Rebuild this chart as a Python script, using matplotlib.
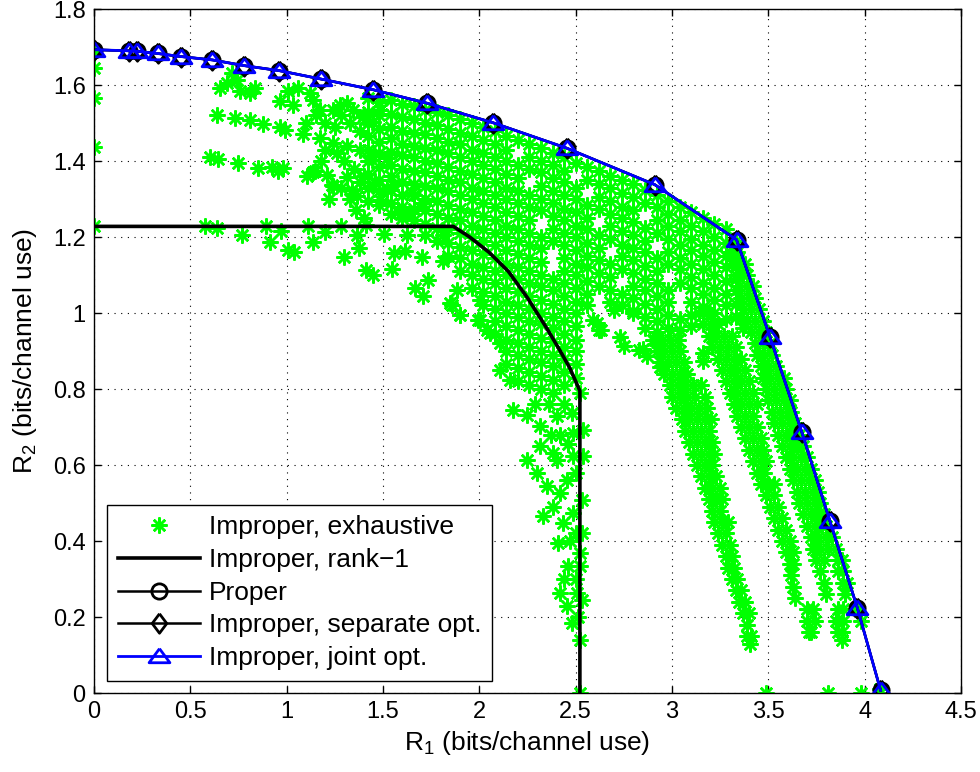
import numpy as np
import matplotlib
matplotlib.use('Agg')
import matplotlib.pyplot as plt

plt.rcParams['font.family'] = ['Liberation Sans', 'DejaVu Sans']
plt.rcParams['mathtext.default'] = 'regular'

# outer boundary (proper, improper separate opt. and joint opt. coincide)
r1_front = [0.0, 0.183, 0.221, 0.33, 0.45, 0.615, 0.78, 0.96, 1.176, 1.446,
            1.73, 2.07, 2.453, 2.91, 3.335, 3.508, 3.673, 3.82, 3.962, 4.083]
r2_front = [1.693, 1.690, 1.689, 1.683, 1.675, 1.666, 1.651, 1.638, 1.616, 1.588,
            1.552, 1.501, 1.434, 1.338, 1.193, 0.938, 0.688, 0.452, 0.224, 0.007]

# improper, rank-1
r1_rank1 = [0.0, 1.865, 1.95, 2.05, 2.15, 2.25, 2.35, 2.42, 2.47, 2.522, 2.522]
r2_rank1 = [1.228, 1.228, 1.20, 1.16, 1.11, 1.04, 0.96, 0.90, 0.855, 0.795, 0.0]

# improper, exhaustive search, region by region
ex_axis = [(0.0, 1.69), (0.0, 1.645), (0.0, 1.566), (0.0, 1.437), (0.0, 1.228),
           (2.52, 0.0), (3.49, 0.0), (3.81, 0.0), (3.98, 0.0), (4.08, 0.01)]

ex_row_123 = [(0.576, 1.230), (0.637, 1.224), (0.767, 1.206), (0.893, 1.230), (0.914, 1.186),
              (0.969, 1.215), (1.009, 1.167), (1.038, 1.160), (1.112, 1.230), (1.135, 1.186),
              (1.199, 1.212), (1.280, 1.228), (1.297, 1.147), (1.363, 1.206), (1.377, 1.171),
              (1.412, 1.232), (1.412, 1.114), (1.450, 1.101), (1.505, 1.209), (1.545, 1.116),
              (1.557, 1.158), (1.614, 1.162), (1.623, 1.206), (1.701, 1.147), (1.718, 1.206),
              (1.735, 1.088), (1.666, 1.066), (1.706, 1.044), (1.813, 1.136), (1.857, 1.022),
              (1.883, 1.061), (1.901, 0.996), (1.813, 1.206), (2.003, 1.035), (1.995, 0.982),
              (2.038, 0.956)]

ex_row_141 = [(0.602, 1.410), (0.645, 1.405), (0.749, 1.395), (0.853, 1.382), (0.922, 1.384),
              (0.957, 1.375), (0.983, 1.382), (1.104, 1.361), (1.147, 1.373), (1.208, 1.364),
              (1.234, 1.338), (1.311, 1.359), (1.337, 1.325), (1.363, 1.307), (1.380, 1.346),
              (1.458, 1.342), (1.484, 1.298), (1.519, 1.325), (1.553, 1.338), (1.579, 1.267),
              (1.640, 1.263), (1.649, 1.316), (1.709, 1.289), (1.138, 1.370), (1.242, 1.333)]

ex_row_152 = [(0.637, 1.522), (0.732, 1.513), (0.810, 1.507), (0.879, 1.498), (0.965, 1.489),
              (0.991, 1.482), (1.086, 1.472), (1.173, 1.461), (1.242, 1.447), (1.311, 1.439),
              (1.381, 1.430), (1.450, 1.412), (1.519, 1.408)]

ex_row_160 = [(0.654, 1.592), (0.689, 1.605), (0.715, 1.632), (0.758, 1.583), (0.810, 1.579),
              (0.836, 1.592), (0.741, 1.614), (0.965, 1.557), (1.009, 1.583), (1.061, 1.592),
              (1.121, 1.579), (1.138, 1.561), (1.034, 1.548), (1.173, 1.535), (1.242, 1.535),
              (1.277, 1.548), (1.311, 1.553), (1.346, 1.535), (1.398, 1.517), (1.450, 1.504),
              (1.484, 1.535)]

ex_fill_mid = [(1.10, 1.50), (1.15, 1.52), (1.20, 1.50), (1.25, 1.49), (1.28, 1.52),
               (1.33, 1.50), (1.38, 1.48), (1.40, 1.52), (1.20, 1.43), (1.26, 1.42),
               (1.30, 1.40), (1.35, 1.38), (1.40, 1.36), (1.18, 1.40), (1.28, 1.33),
               (1.33, 1.30), (1.22, 1.30), (1.36, 1.27), (1.40, 1.25)]

# dense core: (R1, [R2 values]) per column
ex_core = [
    (1.42, [1.565, 1.53, 1.50, 1.465, 1.43, 1.40, 1.365, 1.33, 1.295]),
    (1.48, [1.555, 1.52, 1.485, 1.45, 1.42, 1.385, 1.35, 1.32, 1.285]),
    (1.54, [1.56, 1.525, 1.49, 1.46, 1.425, 1.39, 1.36, 1.325, 1.29, 1.26]),
    (1.60, [1.55, 1.515, 1.48, 1.445, 1.415, 1.38, 1.345, 1.31, 1.28, 1.25]),
    (1.66, [1.545, 1.51, 1.475, 1.44, 1.41, 1.375, 1.34, 1.31, 1.275, 1.245]),
    (1.72, [1.535, 1.50, 1.47, 1.435, 1.40, 1.37, 1.335, 1.30, 1.27, 1.235]),
    (1.78, [1.53, 1.495, 1.46, 1.43, 1.395, 1.36, 1.33, 1.295, 1.26, 1.225, 1.19]),
    (1.84, [1.52, 1.485, 1.45, 1.42, 1.385, 1.35, 1.32, 1.285, 1.25, 1.22, 1.185, 1.15]),
    (1.90, [1.51, 1.475, 1.445, 1.41, 1.375, 1.345, 1.31, 1.275, 1.245, 1.21, 1.175, 1.145, 1.11]),
    (1.96, [1.50, 1.465, 1.43, 1.40, 1.365, 1.33, 1.30, 1.265, 1.23, 1.20, 1.165, 1.13, 1.10, 1.065]),
    (2.02, [1.49, 1.455, 1.42, 1.39, 1.355, 1.32, 1.29, 1.255, 1.22, 1.19, 1.155, 1.12, 1.09,
            1.055, 1.02]),
    (2.08, [1.48, 1.445, 1.41, 1.38, 1.345, 1.31, 1.28, 1.245, 1.21, 1.18, 1.145, 1.11, 1.08,
            1.045, 1.01, 0.98, 0.945]),
    (2.14, [1.465, 1.43, 1.40, 1.365, 1.33, 1.30, 1.265, 1.23, 1.20, 1.165, 1.13, 1.10, 1.065,
            1.03, 1.00, 0.965, 0.93, 0.90, 0.865]),
    (2.20, [1.455, 1.39, 1.355, 1.32, 1.29, 1.255, 1.22, 1.19, 1.155, 1.12, 1.09, 1.055, 1.02,
            0.99, 0.955, 0.92, 0.89, 0.855, 0.82]),
    (2.26, [1.445, 1.41, 1.38, 1.31, 1.28, 1.245, 1.21, 1.18, 1.145, 1.11, 1.08, 1.045, 1.01,
            0.98, 0.945, 0.91, 0.88, 0.845, 0.81]),
    (2.32, [1.435, 1.40, 1.37, 1.335, 1.30, 1.27, 1.20, 1.17, 1.135, 1.10, 1.07, 1.035, 1.00,
            0.97, 0.935, 0.90, 0.87, 0.835, 0.80]),
    (2.38, [1.42, 1.39, 1.355, 1.32, 1.29, 1.255, 1.22, 1.19, 1.09, 1.06, 1.025, 0.99, 0.96,
            0.925, 0.89, 0.86, 0.825, 0.79]),
    (2.44, [1.41, 1.375, 1.345, 1.31, 1.275, 1.245, 1.21, 1.18, 1.145, 1.11, 1.08, 1.045, 1.01,
            0.98, 0.945, 0.91, 0.88, 0.845, 0.81]),
    (2.50, [1.395, 1.33, 1.30, 1.265, 1.23, 1.20, 1.165, 1.13, 1.10, 1.065, 1.03, 1.00, 0.965,
            0.93, 0.90, 0.865, 0.83]),
    (2.56, [1.385, 1.35, 1.285, 1.25, 1.22, 1.185, 1.15, 1.12, 1.085, 1.05, 1.02]),
    (2.62, [1.375, 1.34, 1.305, 1.275, 1.205, 1.17, 1.14, 1.105, 1.07]),
    (2.68, [1.36, 1.33, 1.295, 1.26, 1.23, 1.195, 1.13, 1.095, 1.06, 1.03]),
    (2.74, [1.35, 1.315, 1.28, 1.25, 1.215, 1.18, 1.15, 1.115, 1.05, 1.02]),
    (2.80, [1.34, 1.305, 1.27, 1.24, 1.205, 1.17, 1.14, 1.105, 1.07, 1.04, 1.005]),
    (2.86, [1.325, 1.29, 1.225, 1.19, 1.16, 1.125, 1.09, 1.06, 1.025, 0.99, 0.96]),
    (2.92, [1.31, 1.28, 1.245, 1.21, 1.145, 1.11, 1.08, 1.045, 1.01, 0.98, 0.95]),
    (2.98, [1.295, 1.26, 1.23, 1.195, 1.16, 1.13, 1.06, 1.03, 0.995, 0.96]),
    (3.04, [1.28, 1.245, 1.215, 1.18, 1.145, 1.115, 1.08, 0.985, 0.955]),
    (3.10, [1.265, 1.23, 1.195, 1.165, 1.13, 1.095, 1.065, 1.03, 0.995, 0.965]),
    (3.16, [1.25, 1.215, 1.18, 1.15, 1.115, 1.08, 1.05, 1.015]),
    (3.22, [1.235, 1.20, 1.165, 1.135, 1.10, 1.065, 1.035]),
    (3.28, [1.22, 1.185, 1.15, 1.12, 1.085, 1.05, 1.02, 0.985]),
    (3.33, [1.19, 1.155, 1.125, 1.09, 1.06, 1.025, 0.99]),
]

ex_streak_a = [(2.107, 0.851), (2.160, 0.824), (2.176, 0.746), (2.246, 0.732), (2.315, 0.702),
               (2.401, 0.728), (2.479, 0.737), (2.488, 0.684), (2.246, 0.614), (2.315, 0.649),
               (2.384, 0.632), (2.401, 0.614), (2.488, 0.623), (2.349, 0.544), (2.419, 0.526),
               (2.453, 0.561), (2.332, 0.465), (2.436, 0.447), (2.488, 0.474), (2.410, 0.395),
               (2.462, 0.333), (2.419, 0.263), (2.453, 0.228), (2.505, 0.263), (2.479, 0.184),
               (2.522, 0.140), (2.531, 0.509), (2.531, 0.421), (2.522, 0.368), (2.522, 0.333),
               (2.531, 0.246), (2.522, 0.789), (2.540, 0.693), (2.540, 0.623), (1.850, 1.026),
               (1.900, 0.996), (2.003, 0.982), (2.055, 0.947), (2.107, 0.921), (2.29, 0.76),
               (2.36, 0.76), (2.44, 0.76), (2.42, 0.68), (2.37, 0.68), (2.46, 0.655),
               (2.30, 0.58), (2.50, 0.58), (2.38, 0.49), (2.50, 0.42), (2.47, 0.40),
               (2.50, 0.30), (2.44, 0.30), (2.51, 0.20)]

ex_knee = [(2.59, 0.982), (2.63, 0.956), (2.70, 1.009), (2.73, 0.938), (2.75, 0.912),
           (2.80, 1.0), (2.83, 0.903), (2.87, 0.886), (2.90, 0.930), (2.94, 0.859),
           (2.62, 0.955), (2.61, 0.974), (2.85, 0.905), (2.95, 0.86), (3.162, 0.895),
           (3.162, 0.873), (3.37, 0.96), (3.36, 0.99)]

# lower streaks: (R2, [R1 values]) per row
ex_streak_b = [
    (0.93, [2.91, 2.95, 2.99, 3.03]), (0.90, [2.92, 2.96, 3.00, 3.04]),
    (0.87, [2.94, 2.98, 3.02, 3.06]), (0.84, [2.96, 3.00, 3.04, 3.08]),
    (0.81, [2.99, 3.03, 3.07, 3.11, 3.15]), (0.78, [3.00, 3.04, 3.08, 3.12, 3.17]),
    (0.75, [3.02, 3.06, 3.10, 3.14, 3.18]), (0.72, [3.05, 3.09, 3.13, 3.17, 3.20]),
    (0.69, [3.07, 3.11, 3.15, 3.19]), (0.66, [3.09, 3.13, 3.17, 3.21]),
    (0.63, [3.11, 3.15, 3.19, 3.22]), (0.60, [3.13, 3.17, 3.21]),
    (0.57, [3.15, 3.19, 3.23]), (0.54, [3.17, 3.21, 3.25]),
    (0.51, [3.19, 3.23, 3.26]), (0.48, [3.21, 3.25]),
    (0.45, [3.22, 3.26, 3.29]), (0.42, [3.24, 3.28]),
    (0.39, [3.26, 3.30]), (0.36, [3.28, 3.31]),
    (0.33, [3.29, 3.32]), (0.30, [3.31, 3.34]),
    (0.27, [3.33, 3.36]), (0.24, [3.35, 3.38]),
    (0.21, [3.37, 3.40]), (0.18, [3.39]),
    (0.15, [3.39, 3.41]), (0.13, [3.405]),
]

ex_streak_c = [
    (1.00, [3.14, 3.18, 3.22]), (0.97, [3.16, 3.20, 3.24]),
    (0.94, [3.19, 3.23, 3.27, 3.31]), (0.91, [3.21, 3.25, 3.29, 3.33]),
    (0.88, [3.24, 3.28, 3.32, 3.36]), (0.85, [3.26, 3.30, 3.34, 3.38]),
    (0.82, [3.28, 3.32, 3.36, 3.40]), (0.79, [3.30, 3.34, 3.38, 3.42]),
    (0.76, [3.32, 3.36, 3.40, 3.44]), (0.73, [3.34, 3.38, 3.42]),
    (0.70, [3.36, 3.40, 3.44]), (0.67, [3.38, 3.42, 3.46]),
    (0.64, [3.40, 3.44, 3.47]), (0.61, [3.42, 3.46, 3.49]),
    (0.58, [3.44, 3.48]), (0.55, [3.46, 3.50, 3.53]),
    (0.52, [3.49, 3.53]), (0.49, [3.51, 3.55]),
    (0.46, [3.53, 3.57]), (0.43, [3.55, 3.59]),
    (0.40, [3.57, 3.61]), (0.37, [3.59, 3.63]),
    (0.34, [3.61, 3.63]), (0.31, [3.62]),
    (0.28, [3.63]), (0.25, [3.64]),
]

ex_streak_d = [
    (1.16, [3.30, 3.34]), (1.13, [3.31, 3.35, 3.38]),
    (1.10, [3.33, 3.37, 3.39]), (1.07, [3.35, 3.39, 3.42]),
    (1.04, [3.36, 3.40, 3.43]), (1.01, [3.37, 3.41, 3.45]),
    (0.98, [3.39, 3.43, 3.47]), (0.95, [3.41, 3.45, 3.49]),
    (0.92, [3.43, 3.47, 3.51]), (0.89, [3.44, 3.48, 3.52]),
    (0.86, [3.46, 3.50, 3.54]), (0.83, [3.47, 3.51, 3.55, 3.58]),
    (0.80, [3.49, 3.53, 3.57, 3.59]), (0.77, [3.50, 3.54, 3.58, 3.61]),
    (0.74, [3.52, 3.56, 3.60, 3.62]), (0.71, [3.53, 3.57, 3.61, 3.64]),
    (0.68, [3.55, 3.59, 3.63, 3.66]), (0.65, [3.57, 3.61, 3.65, 3.68]),
    (0.62, [3.59, 3.63, 3.67, 3.70]), (0.59, [3.61, 3.65, 3.69, 3.72]),
    (0.56, [3.63, 3.67, 3.71, 3.74]), (0.53, [3.65, 3.69, 3.73, 3.76]),
    (0.50, [3.66, 3.70, 3.74, 3.77]), (0.47, [3.68, 3.72, 3.76, 3.79]),
    (0.44, [3.70, 3.74, 3.78, 3.80]), (0.41, [3.72, 3.76, 3.80, 3.83]),
    (0.38, [3.73, 3.77, 3.81, 3.85]), (0.35, [3.75, 3.79, 3.86, 3.88]),
    (0.32, [3.77, 3.86, 3.89]), (0.29, [3.79, 3.89, 3.91]),
    (0.26, [3.80, 3.90]), (0.22, [3.70, 3.73, 3.86, 3.89, 3.96]),
    (0.19, [3.70, 3.74, 3.85, 3.89, 3.98]), (0.16, [3.71, 3.72, 3.86, 3.88]),
    (0.14, [3.88]),
]

pts = ex_axis + ex_row_123 + ex_row_141 + ex_row_152 + ex_row_160 + ex_fill_mid
pts = pts + ex_streak_a + ex_knee
for x, ys in ex_core:
    pts += [(x, y) for y in ys]
for y, xs in ex_streak_b + ex_streak_c + ex_streak_d:
    pts += [(x, y) for x in xs]
ex = np.array(pts)

# MATLAB style markers
asterisk = (8, 2, 0)
diamond = [(0, 1), (0.75, 0), (0, -1), (-0.75, 0), (0, 1)]
triangle = [(0, 0.75), (1, -0.6), (-1, -0.6), (0, 0.75)]

fig = plt.figure(figsize=(9.8, 7.72), dpi=100)
ax = fig.add_axes([0.0959, 0.1023, 0.8847, 0.886])

ax.plot(ex[:, 0], ex[:, 1], ls='none', marker=asterisk, ms=11.5, mew=1.8,
        color='#00ff00', label='Improper, exhaustive')
ax.plot(r1_rank1, r2_rank1, color='k', lw=2.6, label='Improper, rank\u22121')
ax.plot(r1_front, r2_front, color='k', lw=1.8, marker='o', ms=11, mew=2.0,
        mfc='none', label='Proper')
ax.plot(r1_front, r2_front, color='k', lw=1.8, marker=diamond, ms=14, mew=2.0,
        mfc='none', label='Improper, separate opt.')
ax.plot(r1_front, r2_front, color='b', lw=2.0, marker=triangle, ms=15, mew=2.0,
        mfc='none', label='Improper, joint opt.')

ax.set_xlim(0, 4.5)
ax.set_ylim(0, 1.8)
ax.set_xticks(np.arange(0, 4.51, 0.5))
ax.set_xticklabels(['0', '0.5', '1', '1.5', '2', '2.5', '3', '3.5', '4', '4.5'])
ax.set_yticks(np.arange(0, 1.81, 0.2))
ax.set_yticklabels(['0', '0.2', '0.4', '0.6', '0.8', '1', '1.2', '1.4', '1.6', '1.8'])
ax.tick_params(direction='in', top=True, right=True, length=5, width=1,
               labelsize=17, pad=6)
ax.grid(True, color='k', linestyle=(0, (1, 5)), linewidth=0.8)
ax.set_axisbelow(True)
for s in ax.spines.values():
    s.set_linewidth(1.0)

ax.set_xlabel('R$_1$ (bits/channel use)', fontsize=19, labelpad=4)
ax.set_ylabel('R$_2$ (bits/channel use)', fontsize=19, labelpad=10)

leg = ax.legend(loc='lower left', bbox_to_anchor=(0.0155, 0.018), borderaxespad=0,
                fontsize=19, numpoints=1, handlelength=3.1, handletextpad=0.35,
                borderpad=0.4, labelspacing=0.33, fancybox=False, framealpha=1,
                edgecolor='k')
leg.get_frame().set_linewidth(1.0)

fig.savefig('out.png', dpi=100)
